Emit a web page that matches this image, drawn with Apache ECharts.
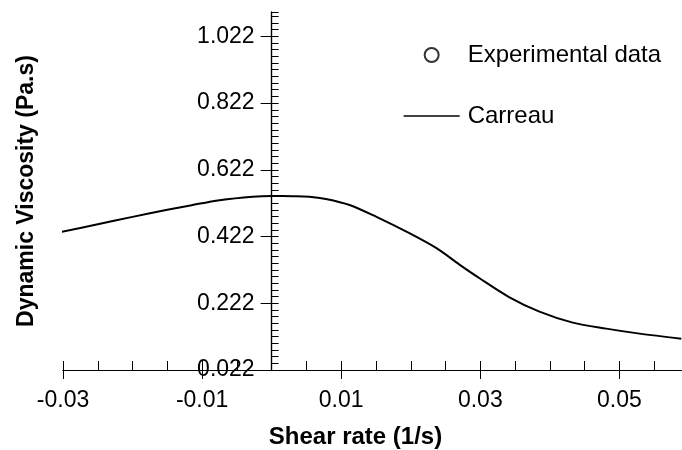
<!DOCTYPE html>
<html>
<head>
<meta charset="utf-8">
<script src="https://cdn.jsdelivr.net/npm/echarts@6/dist/echarts.min.js"></script>
<style>
  html, body { margin: 0; padding: 0; background: #fff; }
  #chart { width: 682px; height: 450px; }
</style>
</head>
<body>
<div id="chart"></div>
<script>
// Carreau fit
const shearRate = [-0.0304, -0.025, -0.02, -0.015, -0.0115, -0.0075, -0.0027, 0.0001, 0.003, 0.0054,
  0.0078, 0.0112, 0.015, 0.0198, 0.0237, 0.027, 0.0299, 0.0342, 0.0385, 0.0433, 0.0481, 0.0529, 0.0589];
const carreau = [0.435, 0.459, 0.481, 0.502, 0.516, 0.531, 0.5415, 0.5435, 0.543, 0.5415,
  0.5346, 0.5166, 0.4816, 0.432, 0.387, 0.338, 0.297, 0.24, 0.197, 0.164, 0.146, 0.131, 0.116];
// no experimental points are visible in the picture
const experimental = [];

const xMin = -0.03, xMax = 0.059;
const yMin = 0.022, yMax = 1.095;

const font = "'Liberation Sans', Arial, sans-serif";
const black = "#000";

const gridLeft = 63, gridRight = 0;
const chartW = 682;
// the y axis sits at shear rate 0
const yAxisShift = -((0 - xMin) / (xMax - xMin)) * (chartW - gridLeft - gridRight);

const chart = echarts.init(document.getElementById("chart"));

const option = {
  animation: false,
  backgroundColor: "#fff",
  grid: {
    left: gridLeft,
    right: gridRight,
    top: 12,
    bottom: 80,
    containLabel: false,
    outerBoundsMode: "none",
  },
  legend: {
    orient: "vertical",
    left: 398,
    top: 38,
    itemWidth: 56,
    itemHeight: 14,
    itemGap: 37,
    selectedMode: false,
    textStyle: { color: black, fontSize: 24, fontFamily: font, padding: [0, 0, 0, 3] },
    lineStyle: { width: 1.3 },
    data: [
      "Experimental data",
      { name: "Carreau", itemStyle: { opacity: 0 } },
    ],
  },
  xAxis: [
    {
      type: "value",
      position: "bottom",
      min: xMin,
      max: xMax,
      interval: 0.02,
      name: "Shear rate (1/s)",
      nameLocation: "middle",
      nameGap: 55,
      nameTextStyle: {
        color: black,
        fontSize: 24,
        fontWeight: "bold",
        fontFamily: font,
        padding: [0, 34, 0, 0],
      },
      axisLine: { onZero: false, lineStyle: { color: black, width: 1.2 } },
      axisTick: { show: true, inside: false, length: 9, lineStyle: { color: black, width: 1 } },
      axisLabel: {
        color: black,
        fontSize: 23,
        fontFamily: font,
        margin: 19,
        showMaxLabel: false,
        formatter: (v) => String(Math.round(v * 1000) / 1000),
      },
      splitLine: { show: false },
    },
    {
      // minor ticks, pointing up
      type: "value",
      position: "bottom",
      min: xMin,
      max: xMax,
      interval: 0.005,
      axisLine: { onZero: false, lineStyle: { color: black, width: 1.2 } },
      axisTick: { show: true, inside: true, length: 9, lineStyle: { color: black, width: 1 } },
      axisLabel: { show: false },
      splitLine: { show: false },
    },
  ],
  yAxis: [
    {
      type: "value",
      position: "left",
      offset: yAxisShift,
      min: yMin,
      max: yMax,
      interval: 0.2,
      name: "Dynamic Viscosity (Pa.s)",
      nameLocation: "middle",
      nameGap: 233,
      nameTextStyle: { color: black, fontSize: 23, fontWeight: "bold", fontFamily: font },
      axisLine: { onZero: false, lineStyle: { color: black, width: 1.2 } },
      axisTick: { show: true, inside: false, length: 11, lineStyle: { color: black, width: 1 } },
      axisLabel: {
        color: black,
        fontSize: 23,
        fontFamily: font,
        margin: 17,
        showMaxLabel: false,
        formatter: (v) => v.toFixed(3),
      },
      splitLine: { show: false },
    },
    {
      // minor ticks, pointing right
      type: "value",
      position: "left",
      offset: yAxisShift,
      min: yMin,
      max: yMax,
      interval: 0.02,
      axisLine: { onZero: false, lineStyle: { color: black, width: 1.2 } },
      axisTick: { show: true, inside: true, length: 7, lineStyle: { color: black, width: 1 } },
      axisLabel: { show: false },
      splitLine: { show: false },
    },
  ],
  series: [
    {
      name: "Experimental data",
      type: "scatter",
      xAxisIndex: 0,
      yAxisIndex: 0,
      symbol: "circle",
      symbolSize: 14,
      itemStyle: { color: "#fff", borderColor: black, borderWidth: 1.3 },
      data: experimental,
    },
    {
      name: "Carreau",
      type: "line",
      xAxisIndex: 0,
      yAxisIndex: 0,
      symbol: "none",
      showSymbol: false,
      smooth: 0.3,
      clip: false,
      color: black,
      lineStyle: { color: black, width: 2 },
      data: shearRate.map((x, i) => [x, carreau[i]]),
    },
  ],
};

chart.setOption(option);
</script>
</body>
</html>
